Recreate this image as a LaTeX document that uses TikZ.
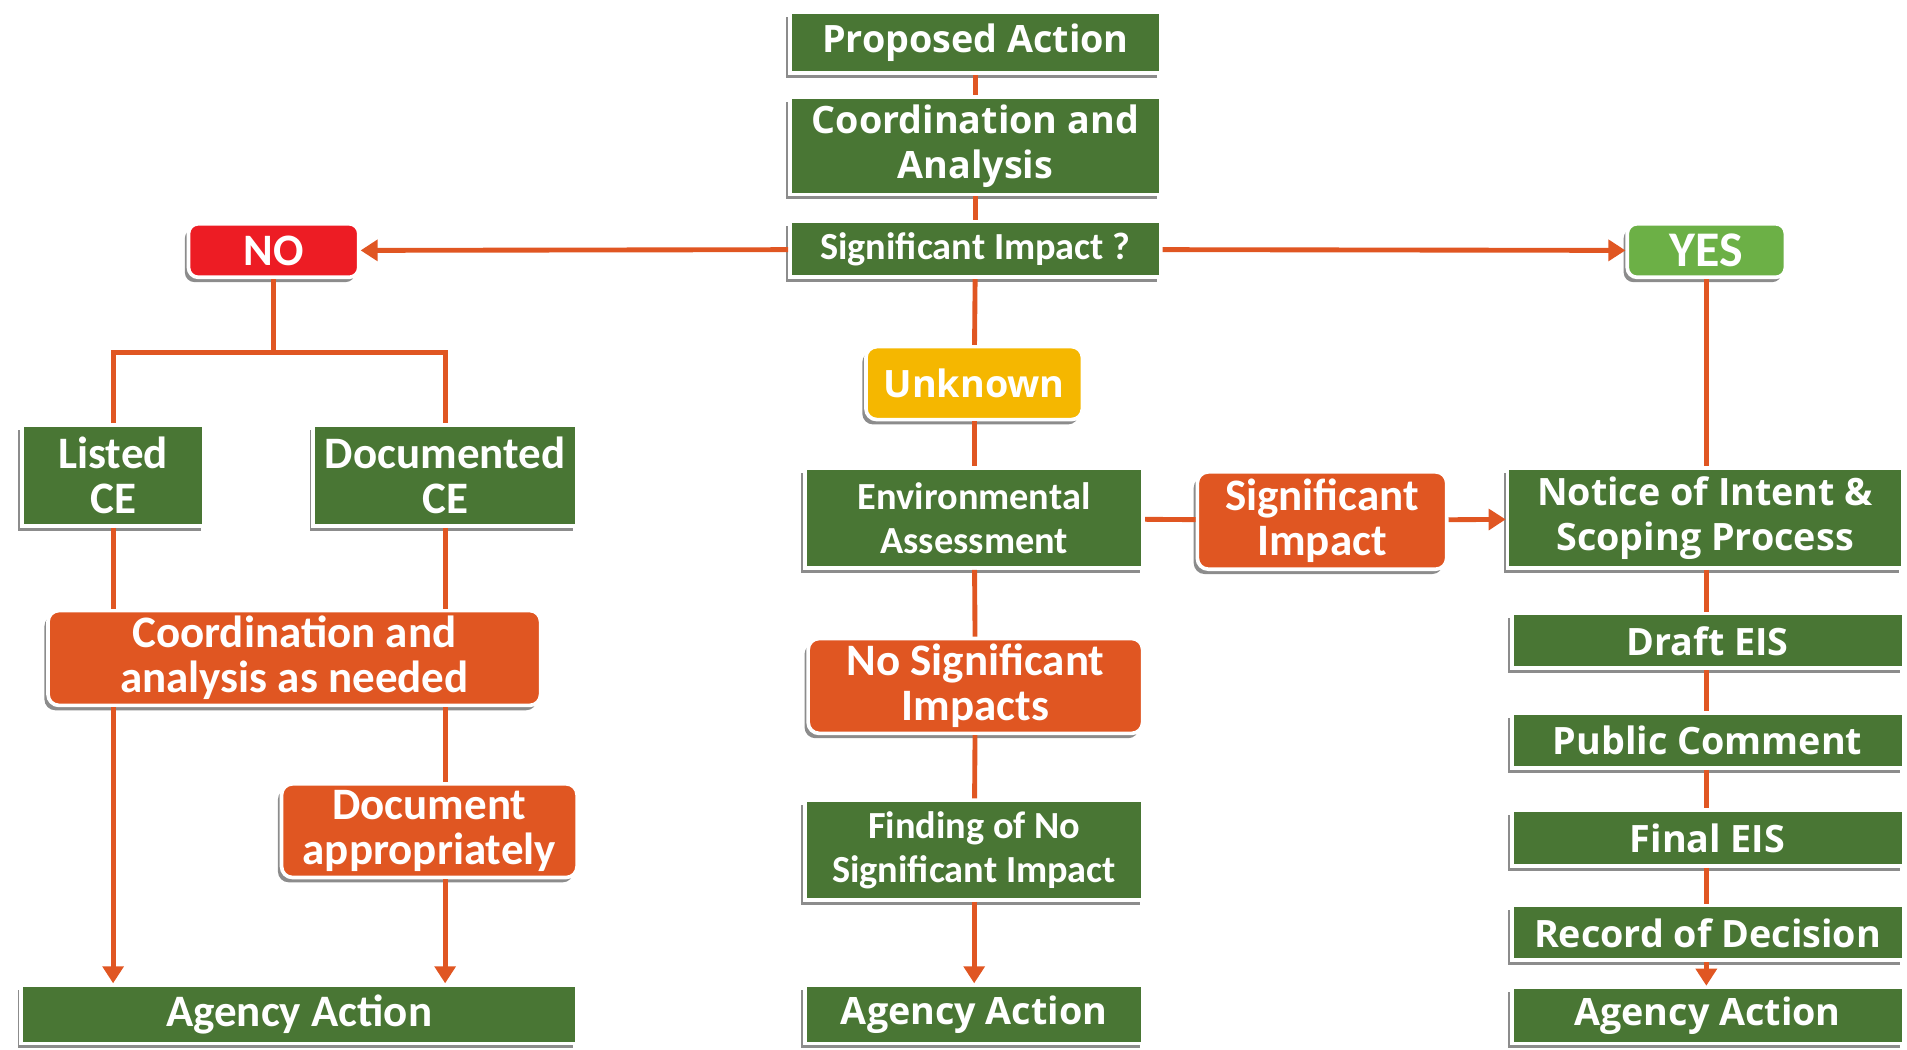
\documentclass[tikz,border=0pt]{standalone}
\usepackage{fontspec}
\newfontfamily\widefont{Open Sans}
\newfontfamily\narrowfont{Carlito}
\usepackage{tikz}
\usetikzlibrary{positioning,shadows,arrows.meta,calc}
\tikzset{>={Triangle[width=17pt,length=14pt]}}
\definecolor{boxgreen}{RGB}{73,118,52}
\definecolor{boxorange}{RGB}{224,86,34}
\definecolor{boxred}{RGB}{237,28,36}
\definecolor{boxyellow}{RGB}{245,183,0}
\definecolor{boxlime}{RGB}{108,176,70}
\newcommand\wtext{\widefont\bfseries\fontsize{31}{37}\selectfont}
\newcommand\ntext{\narrowfont\bfseries\fontsize{31.5}{36}\selectfont}
\newcommand\btext{\narrowfont\bfseries\fontsize{37}{37}\selectfont}
\tikzstyle{box}=[draw=white,line width=3pt,text=white,align=center,inner sep=2pt,
  drop shadow={shadow xshift=-3pt,shadow yshift=-4pt,opacity=0.45,fill=black}]

\begin{document}
\begin{tikzpicture}[x=1pt,y=-1pt,
      % define styles
      gbox/.style={box,fill=boxgreen},
      obox/.style={box,fill=boxorange,rounded corners=9pt},
      wf/.style={font=\wtext},
      nf/.style={font=\ntext},
      bf/.style={font=\btext},
      link/.style={draw=boxorange,line width=4pt}
  ]
  \useasboundingbox (0,0) rectangle (1568,863);
  % Middle column, top
  \node[gbox,wf,minimum width=305pt,minimum height=50pt] (pa) at (802,35) {Proposed Action};
  \node[gbox,wf,minimum width=305pt,minimum height=80pt] (ca) at (802,120) {Coordination and\\Analysis};
  \node[gbox,nf,minimum width=305pt,minimum height=46pt] (si) at (802,205) {Significant Impact ?};
  \node[box,bf,fill=boxred,rounded corners=8pt,minimum width=140pt,minimum height=44pt] (no) at (225,206) {NO};
  \node[box,bf,font=\narrowfont\bfseries\fontsize{41}{41}\selectfont,fill=boxlime,rounded corners=8pt,minimum width=130pt,minimum height=44pt] (yes) at (1403,206) {YES};
  % Left branch
  \node[gbox,bf,minimum width=150pt,minimum height=83pt] (lce) at (93,391) {Listed\\CE};
  \node[gbox,bf,minimum width=217pt,minimum height=83pt] (dce) at (366,391) {Documented\\CE};
  \node[obox,bf,minimum width=405pt,minimum height=78pt] (cn) at (242,541) {Coordination and\\analysis as needed};
  \node[obox,bf,minimum width=243pt,minimum height=77pt] (da) at (353,683) {Document\\appropriately};
  \node[gbox,bf,minimum width=457pt,minimum height=48pt] (aa1) at (246,834) {Agency Action};
  % Middle branch
  \node[box,wf,fill=boxyellow,rounded corners=9pt,minimum width=178pt,minimum height=60pt] (unk) at (801,315) {Unknown};
  \node[gbox,nf,minimum width=278pt,minimum height=82pt] (ea) at (801,426) {Environmental\\Assessment};
  \node[obox,bf,minimum width=205pt,minimum height=80pt] (sig) at (1087,428) {Significant\\Impact};
  \node[obox,bf,minimum width=275pt,minimum height=78pt] (nsi) at (802,564) {No Significant\\Impacts};
  \node[gbox,nf,minimum width=278pt,minimum height=82pt] (fnsi) at (801,699) {Finding of No\\Significant Impact};
  \node[gbox,wf,minimum width=278pt,minimum height=48pt] (aa2) at (801,834) {Agency Action};
  % Right branch
  \node[gbox,wf,minimum width=325pt,minimum height=82pt] (noi) at (1402,426) {Notice of Intent \&\\Scoping Process};
  \node[gbox,wf,minimum width=322pt,minimum height=45pt] (deis) at (1404,527) {Draft EIS};
  \node[gbox,wf,minimum width=322pt,minimum height=45pt] (pc) at (1404,609) {Public Comment};
  \node[gbox,wf,minimum width=322pt,minimum height=46pt] (feis) at (1404,689) {Final EIS};
  \node[gbox,wf,minimum width=322pt,minimum height=45pt] (rod) at (1404,767) {Record of Decision};
  \node[gbox,wf,minimum width=322pt,minimum height=46pt] (aa3) at (1404,835) {Agency Action};
  % Top links and the two answers
  \draw[link] (pa) -- (ca);
  \draw[link] (ca) -- (si);
  \draw[link,->] (si) -- (no);
  \draw[link,->] (si) -- (yes);
  \draw[link] (si) -- (unk);
  % NO side
  \coordinate (split) at (225,290);
  \draw[link] (no) -- (split);
  \draw[link] (lce.north) |- (split) -| (dce.north);
  \draw[link] (lce) -- (lce |- cn.north);
  \draw[link] (dce) -- (dce |- cn.north);
  \draw[link,->] (cn.south -| lce) -- (aa1.north -| lce);
  \draw[link] (cn.south -| dce) -- (da.north -| dce);
  \draw[link,->] (da.south -| dce) -- (aa1.north -| dce);
  % Unknown side
  \draw[link] (unk) -- (ea);
  \draw[link] (ea) -- (sig);
  \draw[link,->] (sig) -- (noi);
  \draw[link] (ea) -- (nsi);
  \draw[link] (nsi) -- (fnsi);
  \draw[link,->] (fnsi) -- (aa2);
  % YES side
  \draw[link] (yes) -- (yes |- noi.north);
  \draw[link] (noi.south -| yes) -- (deis.north -| yes);
  \draw[link] (deis.south -| yes) -- (pc.north -| yes);
  \draw[link] (pc.south -| yes) -- (feis.north -| yes);
  \draw[link] (feis.south -| yes) -- (rod.north -| yes);
  \draw[link,->] (rod.south -| yes) -- (aa3.north -| yes);
\end{tikzpicture}
\end{document}
